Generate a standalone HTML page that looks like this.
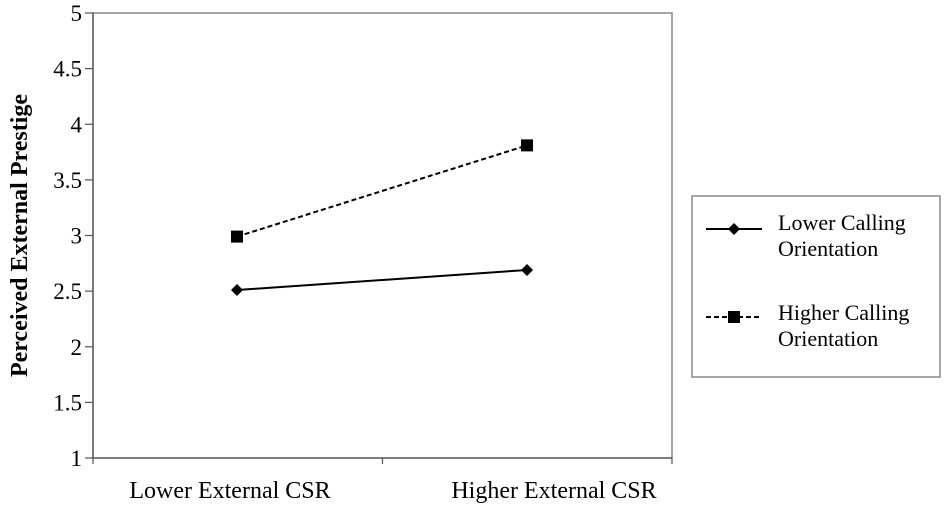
<!DOCTYPE html>
<html><head><meta charset="utf-8"><style>
body{margin:0;background:#fff;width:945px;height:505px;overflow:hidden}
svg text{font-family:"Liberation Serif",serif;fill:#000}
</style></head><body>
<svg width="945" height="505">
<script>
const categories=["Lower External CSR","Higher External CSR"];
const lowerCalling=[2.51,2.69];
const higherCalling=[2.99,3.81];
const yTicks=["1","1.5","2","2.5","3","3.5","4","4.5","5"];
</script>
<g id="g"></g>
</svg>
<script>
const NS="http://www.w3.org/2000/svg";
const g=document.getElementById('g');
const L=93,R=672,T=13,B=458,ymin=1,ymax=5;
const y=v=>B-(v-ymin)/(ymax-ymin)*(B-T);
const cx=[237,527];
const x=i=>cx[i];
const labelShift=[-7,27];
const FF='"Liberation Serif", serif';
function mk(t,a,txt){const e=document.createElementNS(NS,t);for(const k in a)e.setAttribute(k,a[k]);if(t==='text')e.setAttribute('font-family',FF);if(txt!==undefined)e.textContent=txt;g.appendChild(e);return e;}
let f=mk('rect',{x:L,y:T,width:R-L,height:B-T,fill:'none',stroke:'#888','stroke-width':1.5});

let ax=mk('line',{x1:L,y1:T,x2:L,y2:B,stroke:'#555','stroke-width':1.3});

let bx=mk('line',{x1:L,y1:B,x2:R,y2:B,stroke:'#555','stroke-width':1.3});

yTicks.forEach(t=>{const v=parseFloat(t);
 const tk=mk('line',{x1:L-8,y1:y(v),x2:L,y2:y(v),stroke:'#555','stroke-width':1.2});
 
 const tl=mk('text',{x:L-11,y:y(v)+8,'text-anchor':'end','font-size':23},t);
 });
[L,(L+R)/2,R].forEach(px=>{const tk=mk('line',{x1:px,y1:B,x2:px,y2:B+6,stroke:'#555','stroke-width':1.2});
 });
categories.forEach((c,i)=>{const tl=mk('text',{x:x(i)+labelShift[i],y:498,'text-anchor':'middle','font-size':24},c);
 });
const yt=mk('text',{x:0,y:0,'text-anchor':'middle','font-size':24,'font-weight':'bold',transform:`translate(27,${(T+B)/2}) rotate(-90)`},'Perceived External Prestige');

function series(vals,dash,shape,name){
 const p=mk('polyline',{points:vals.map((v,i)=>x(i)+','+y(v)).join(' '),fill:'none',stroke:'#000','stroke-width':2,'stroke-dasharray':dash});
 
 vals.forEach((v,i)=>{let m;
  if(shape==='sq')m=mk('rect',{x:x(i)-6,y:y(v)-6,width:12,height:12,fill:'#000'});
  else m=mk('polygon',{points:`${x(i)},${y(v)-6} ${x(i)+6},${y(v)} ${x(i)},${y(v)+6} ${x(i)-6},${y(v)}`,fill:'#000'});
  });
}
series(lowerCalling,'none','dia','lower-calling');
series(higherCalling,'5,3','sq','higher-calling');
const lg=mk('rect',{x:692,y:196,width:248,height:181,fill:'#fff',stroke:'#888','stroke-width':1.5});

let l1=mk('line',{x1:706,y1:229,x2:762,y2:229,stroke:'#000','stroke-width':2});

let m1=mk('polygon',{points:'734,223 740,229 734,235 728,229',fill:'#000'});

let t1=mk('text',{x:778,y:230,'font-size':22},'Lower Calling');
let t2=mk('text',{x:778,y:256,'font-size':22},'Orientation');
let l2=mk('line',{x1:706,y1:317,x2:762,y2:317,stroke:'#000','stroke-width':2,'stroke-dasharray':'5,3'});

let m2=mk('rect',{x:728,y:311,width:12,height:12,fill:'#000'});

let t3=mk('text',{x:778,y:320,'font-size':22},'Higher Calling');
let t4=mk('text',{x:778,y:346,'font-size':22},'Orientation');
</script>
</body></html>
